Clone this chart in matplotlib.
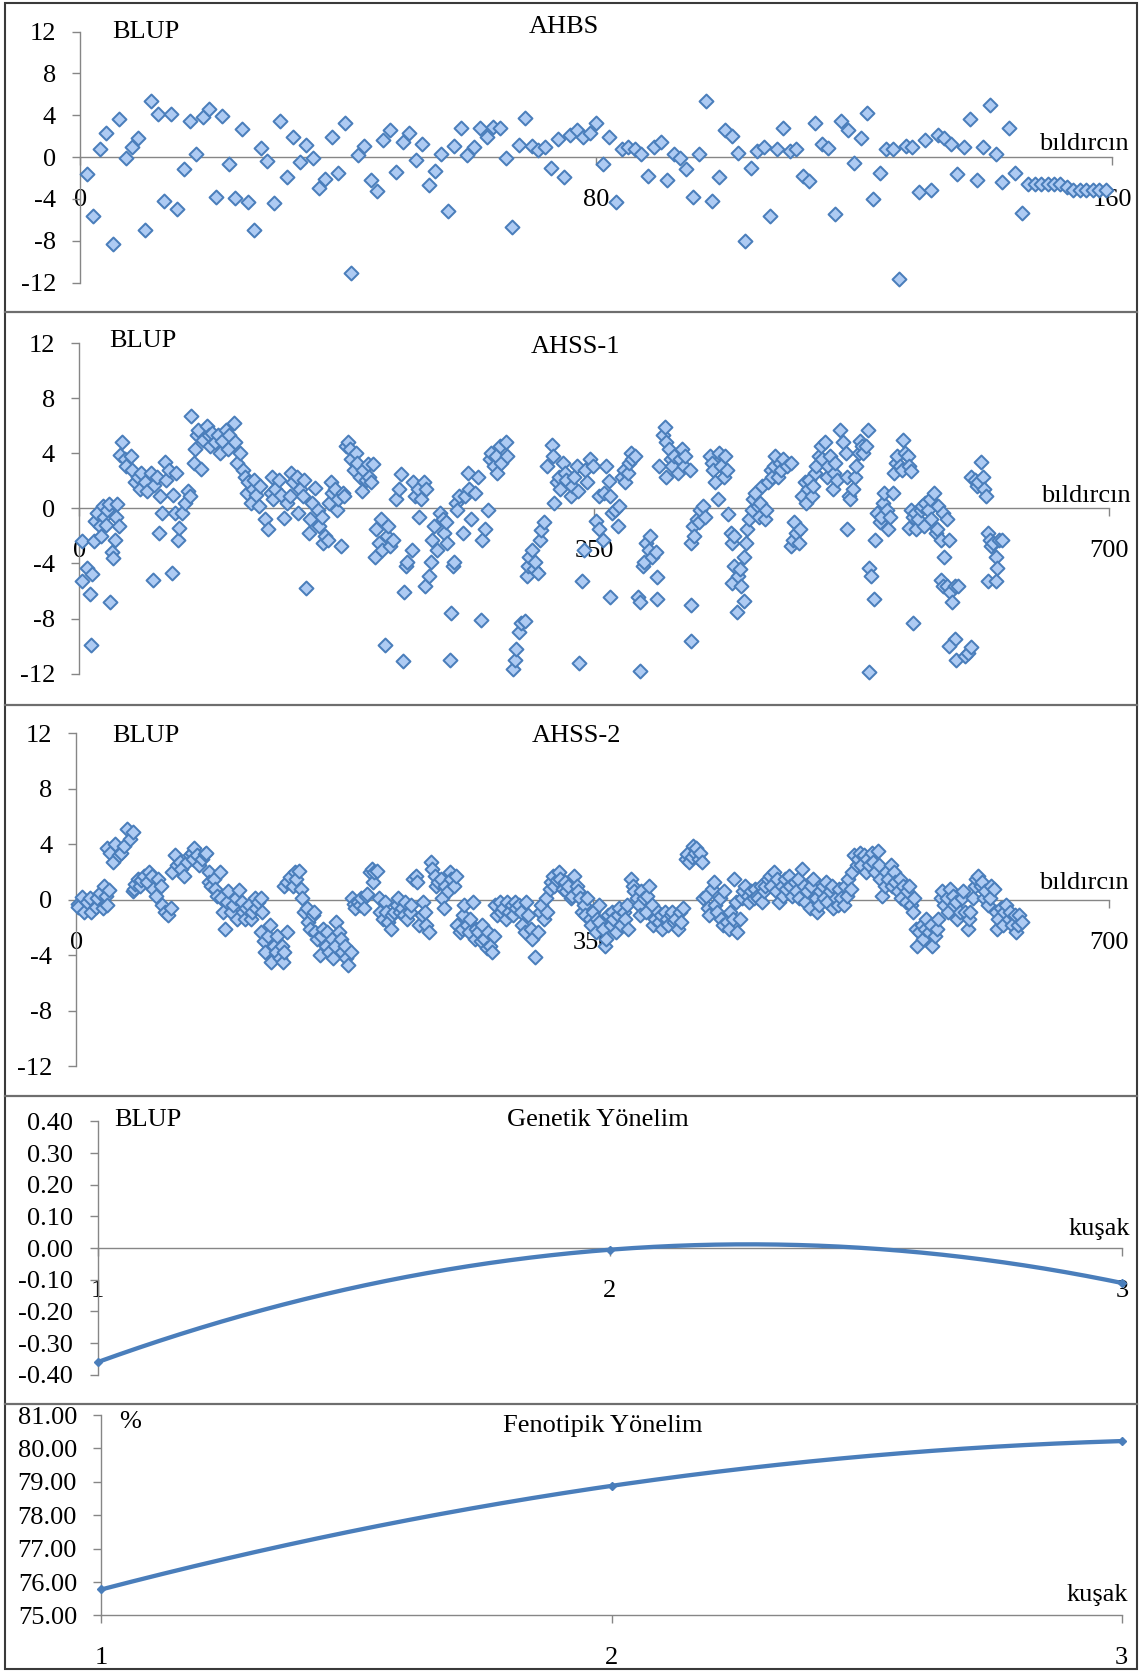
import matplotlib.pyplot as plt
import numpy as np
from matplotlib.lines import Line2D
from matplotlib.patches import Rectangle
from matplotlib.ticker import FuncFormatter

plt.rcParams['font.family'] = ['Liberation Serif', 'DejaVu Serif']
plt.rcParams['axes.unicode_minus'] = False

# AHBS : BLUP degerleri, bildircin sirasina gore (1..159)
ahbs_blup = [
    -1.6, -5.6, 0.8, 2.3, -8.3, 3.6, -0.1, 1.0, 1.8, -7.0,
    5.4, 4.1, -4.2, 4.1, -5.0, -1.1, 3.5, 0.3, 3.8, 4.6,
    -3.8, 3.9, -0.7, -3.9, 2.7, -4.3, -7.0, 0.9, -0.4, -4.4,
    3.5, -1.9, 1.9, -0.5, 1.2, -0.1, -3.0, -2.1, 1.9, -1.5,
    3.3, -11.1, 0.2, 1.1, -2.2, -3.2, 1.6, 2.6, -1.4, 1.4,
    2.3, -0.3, 1.3, -2.7, -1.3, 0.3, -5.2, 1.1, 2.8, 0.2,
    1.0, 2.8, 1.9, 2.9, 2.8, -0.1, -6.7, 1.2, 3.7, 1.1,
    0.7, 1.0, -1.0, 1.7, -1.9, 2.1, 2.6, 1.9, 2.3, 3.3,
    -0.7, 1.9, -4.3, 0.8, 1.0, 0.8, 0.3, -1.8, 1.0, 1.4,
    -2.2, 0.3, -0.1, -1.1, -3.8, 0.3, 5.4, -4.2, -1.9, 2.6,
    2.0, 0.4, -8.0, -1.0, 0.6, 1.0, -5.6, 0.8, 2.8, 0.6,
    0.8, -1.8, -2.3, 3.3, 1.3, 0.9, -5.4, 3.5, 2.6, -0.6,
    1.8, 4.2, -4.0, -1.5, 0.8, 0.8, -11.7, 1.1, 1.0, -3.3,
    1.6, -3.1, 2.1, 1.8, 1.3, -1.6, 1.0, 3.6, -2.2, 1.0,
    5.0, 0.3, -2.4, 2.8, -1.5, -5.3, -2.6, -2.6, -2.6, -2.6,
    -2.6, -2.6, -2.9, -3.1, -3.1, -3.1, -3.1, -3.1, -3.1,
]
ahbs_no = list(range(1, len(ahbs_blup) + 1))

# AHSS-1 : bildircin no / BLUP
ahss1_no = [
    2, 2, 5, 7, 8, 9, 10, 11, 12, 14,
    15, 16, 17, 18, 19, 20, 21, 22, 23, 24,
    25, 26, 27, 28, 29, 31, 32, 35, 36, 38,
    40, 41, 42, 45, 46, 49, 50, 51, 53, 54,
    55, 56, 58, 59, 61, 63, 64, 65, 66, 67,
    68, 70, 72, 74, 75, 76, 78, 79, 80, 81,
    83, 84, 87, 88, 89, 90, 92, 94, 96, 97,
    100, 101, 102, 105, 106, 107, 109, 111, 113, 114,
    115, 117, 118, 119, 120, 122, 123, 126, 128, 130,
    131, 132, 133, 136, 137, 139, 141, 143, 144, 145,
    148, 149, 150, 152, 153, 154, 156, 157, 158, 160,
    162, 163, 165, 166, 167, 169, 170, 171, 172, 174,
    175, 176, 178, 179, 180, 181, 183, 184, 185, 187,
    188, 189, 191, 192, 193, 195, 196, 197, 198, 200,
    201, 202, 204, 205, 206, 208, 209, 210, 211, 213,
    215, 217, 219, 220, 221, 222, 223, 226, 227, 228,
    230, 231, 232, 234, 235, 236, 238, 239, 240, 241,
    243, 245, 247, 248, 249, 250, 252, 253, 254, 255,
    256, 257, 258, 261, 262, 264, 265, 266, 269, 271,
    273, 274, 276, 278, 279, 280, 282, 283, 284, 286,
    287, 290, 291, 295, 296, 297, 299, 300, 303, 304,
    305, 306, 308, 309, 310, 312, 313, 314, 316, 318,
    321, 322, 323, 325, 326, 327, 329, 330, 331, 334,
    335, 336, 338, 339, 340, 342, 343, 344, 345, 347,
    349, 351, 353,
    353, 356, 357, 358, 360, 361, 361, 362, 364, 366,
    367, 369, 370, 371, 373, 374, 375, 376, 378, 380,
    381, 381, 383, 384, 385, 387, 388, 389, 392, 393,
    393, 394, 397, 398, 399, 401, 402, 399, 403, 404,
    407, 408, 410, 411, 412, 415, 416, 416, 416, 417,
    418, 420, 421, 422, 424, 425, 429, 430, 431, 432,
    434, 435, 436, 438, 439, 440, 441, 443, 444, 445,
    444, 445, 447, 448, 449, 450, 452, 452, 453, 454,
    455, 457, 458, 459, 461, 462, 463, 464, 466, 467,
    468, 470, 471, 472, 473, 475, 476, 477, 478, 481,
    484, 484, 485, 486, 487, 489, 490, 491, 493, 494,
    495, 496, 498, 499, 500, 501, 503, 504, 505, 507,
    508, 509, 510, 512, 513, 514, 515, 517, 519, 521,
    522, 522, 523, 524, 526, 527, 528, 530, 531, 532,
    533, 535, 536, 537, 538, 537, 540, 541, 542, 544,
    545, 546, 547, 549, 550, 551, 553, 554, 555, 556,
    558, 559, 560, 561, 563, 564, 565, 567, 564, 565,
    567, 568, 569, 570, 572, 573, 574, 575, 577, 578,
    579, 581, 582, 583, 584, 586, 587, 588, 590, 591,
    586, 587, 590, 592, 593, 595, 595, 596, 591, 597,
    602, 604, 606, 613, 606, 609, 610, 611, 614, 615,
    616, 618, 618, 619, 620, 621, 623, 623, 624, 625,
    627,
]
ahss1_blup = [
    -2.4, -5.3, -4.3, -6.2, -9.9, -4.8, -2.4, -0.9, -0.3, -1.3,
    -2.0, 0.2, -0.6, -1.2, -0.1, 0.3, -6.8, -3.2, -3.6, -2.3,
    -0.6, 0.3, -1.3, 3.9, 4.8, 3.6, 3.1, 3.8, 2.8, 1.9,
    2.3, 1.4, 2.6, 1.9, 1.3, 2.6, -5.2, 1.7, 2.3, -1.8,
    0.9, -0.3, 3.4, 2.1, 2.8, -4.7, 1.0, -0.3, 2.6, -2.3,
    -1.4, -0.3, 0.4, 1.3, 0.9, 6.7, 3.3, 4.3, 5.3, 5.7,
    2.9, 5.0, 6.0, 5.3, 4.5, 5.5, 4.8, 5.3, 4.0, 4.9,
    5.7, 4.3, 5.3, 6.2, 4.8, 3.3, 4.0, 2.8, 2.3, 1.1,
    1.9, 0.4, 1.4, 2.1, 1.0, 0.2, 1.6, -0.8, -1.5, 1.1,
    2.3, 0.7, 1.4, 2.1, 1.0, -0.7, 0.4, 0.9, 2.6, 1.9,
    2.3, -0.3, 1.4, 0.9, 2.1, -5.8, -1.8, -0.8, 0.4, 1.5,
    -0.1, -1.3, -0.6, -2.5, -2.0, -2.3, 0.4, 1.9, 1.1, 1.4,
    -0.1, 0.7, -2.7, 1.1, 0.9, 4.5, 4.8, 4.3, 3.6, 2.8,
    4.0, 3.3, 2.3, 1.3, 2.8, 2.1, 3.2, 2.3, 1.9, 3.2,
    -3.5, -1.5, -2.5, -0.8, -3.0, -9.9, -2.0, -1.3, -2.7, -2.3,
    0.7, 1.4, 2.5, -11.1, -6.1, -4.2, -3.9, -3.0, 1.9, 0.9,
    1.4, -0.6, 0.7, 1.9, -5.6, 1.4, -4.9, -3.9, -2.3, -1.3,
    -3.0, -0.3, -0.8, -1.8, -1.0, -2.5, -11.0, -7.6, -4.2, -3.9,
    0.4, -0.1, 0.9, -1.8, 0.9, 2.6, 1.4, -0.8, 1.1, 2.3,
    -8.1, -2.3, -1.5, -0.1, 3.6, 4.0, 3.1, 3.8, 2.6, 4.5,
    3.3, 4.8, 3.8, -11.7, -11.0, -10.2, -9.0, -8.3, -8.2, -4.9,
    -4.2, -3.5, -3.0, -4.4, -3.9, -4.7, -2.3, -1.6, -1.0, 3.1,
    4.6, 3.8, 0.4, 1.9, 2.3, 1.4, 3.3, 2.6, 2.1, 0.9,
    1.6, 2.3, 3.1, 1.3, -11.2, -5.3, -3.0, 2.8, 1.9, 3.6,
    3.1, -0.9, 0.9,
    -1.5, -2.3, 1.1, 3.1, 2.0, 0.9, -6.4, -0.3, -0.1, -1.3,
    0.2, 2.3, 2.8, 1.9, 2.6, 3.3, 4.0, 3.6, 3.8, -6.4,
    -6.8, -11.8, -4.2, -3.9, -2.5, -3.0, -2.0, -3.5, -3.2, -5.0,
    -6.6, 3.1, 5.3, 5.9, 4.8, 4.3, 3.6, 2.3, 3.1, 3.8,
    2.6, 3.6, 4.3, 3.1, 3.8, 2.8, -2.5, -7.0, -9.6, -1.3,
    -2.0, -0.8, -1.0, -0.1, 0.2, -0.6, 3.8, 3.3, 2.8, 1.9,
    0.7, 4.0, 3.1, 2.3, 3.8, 2.8, -0.4, -1.8, -2.5, -4.2,
    -5.4, -2.0, -7.5, -4.9, -4.4, -5.6, -6.7, -3.5, -2.5, -1.5,
    -0.8, -0.1, 0.7, 1.1, 0.2, -0.6, 0.4, 1.6, -0.8, -0.1,
    1.9, 2.8, 2.3, 3.1, 3.8, 2.3, 3.3, 2.8, 3.6, 3.1,
    3.3, -2.7, -2.3, -1.0, -1.8, -2.5, -1.5, 0.9, 1.9, 0.4,
    1.4, 2.1, 0.9, 1.6, 2.6, 3.1, 3.8, 4.5, 3.6, 4.8,
    2.3, 3.1, 3.8, 1.4, 2.6, 3.3, 2.1, 5.7, 4.8, 4.0,
    -1.5, 2.3, 0.9, 0.7, 1.4, 2.3, 3.1, 4.0, 4.9, 4.5,
    4.0, 4.5, 5.7, -4.3, -4.9, -11.9, -6.6, -2.3, -0.3, -1.0,
    -0.6, 0.4, 1.1, -0.1, -1.5, -0.6, 1.1, 2.6, 3.3, 3.8,
    3.1, 2.8, 5.0, 4.0, 3.8, 3.1, 2.7, -8.3, -1.4, -0.1,
    -0.6, -0.3, -1.5, -0.8, -0.1, 0.2, -1.3, 0.4, -0.1, 0.7,
    -0.8, 1.1, -1.8, -1.5, 0.2, -2.3, -0.3, -3.5, -0.8, -2.3,
    -5.2, -5.6, -5.6, -6.1, -6.8, -5.6, -9.5, -11.0, -10.0, -5.6,
    -10.7, -10.5, -10.1, 3.4, 2.3, 2.1, 1.6, 1.9, 2.3, 1.4,
    0.9, -1.8, -5.3, -2.3, -2.7, -2.5, -3.5, -5.3, -4.3, -2.3,
    -2.3,
]

# AHSS-2 : bildircin no / BLUP
ahss2_no = [
    1, 1, 4, 5, 7, 9, 10, 13, 14, 16,
    18, 19, 20, 22, 21, 21, 23, 25, 26, 29,
    30, 32, 34, 36, 38, 38, 39, 40, 42, 43,
    44, 46, 48, 49, 51, 52, 54, 55, 57, 58,
    60, 62, 64, 65, 67, 68, 70, 71, 73, 75,
    77, 78, 79, 80, 82, 83, 85, 87, 88, 90,
    90, 91, 93, 94, 95, 97, 98, 99, 101, 102,
    103, 105, 106, 108, 109, 110, 112, 113, 114, 115,
    117, 118, 119, 121, 122, 123, 125, 126, 125, 127,
    128, 130, 131, 132, 134, 135, 136, 138, 139, 140,
    141, 143, 141, 143, 145, 147, 148, 149, 151, 152,
    153, 154, 156, 157, 158, 160, 161, 162, 163, 165,
    166, 167, 169, 170, 171, 173, 174, 175, 176, 178,
    179, 180, 182, 183, 184, 186, 187, 188, 189, 191,
    192, 193, 195, 196, 197, 199, 200, 201, 202, 204,
    205, 206, 208, 209, 210, 211, 213, 214, 215, 217,
    218, 219, 221, 222, 223, 224, 226, 227, 228, 230,
    231, 232, 234, 235, 236, 237, 239, 240, 241, 243,
    244, 245, 247, 248, 249, 250, 252, 253, 254, 256,
    257, 258, 260, 261, 262, 263, 265, 266, 267, 269,
    270, 271, 272, 274, 275, 276, 278, 279, 280, 282,
    283, 284, 285, 287, 288, 289, 291, 292, 293, 295,
    296, 297, 298, 300, 301, 302, 304, 305, 306, 308,
    309, 311, 313, 314, 315, 317, 318, 319, 321, 322,
    323, 324, 326, 327, 328, 330, 331, 332, 333, 335,
    336, 337, 339, 340, 341, 343, 344, 345, 346, 348,
    349, 350, 352, 353, 354,
    354, 357, 358, 359, 360, 362, 363, 364, 366, 367,
    368, 369, 371, 372, 373, 374, 376, 377, 378, 380,
    381, 382, 383, 385, 386, 387, 388, 390, 391, 392,
    394, 395, 396, 397, 399, 400, 401, 403, 404, 405,
    406, 408, 409, 410, 411, 413, 414, 415, 417, 418,
    419, 420, 422, 423, 424, 425, 427, 428, 429, 431,
    432, 433, 434, 436, 437, 438, 439, 441, 442, 443,
    445, 446, 447, 448, 450, 451, 452, 453, 455, 456,
    457, 459, 460, 461, 462, 464, 465, 466, 467, 469,
    470, 471, 473, 474, 475, 476, 478, 479, 480, 481,
    483, 484, 485, 487, 488, 489, 490, 492, 493, 494,
    495, 497, 498, 499, 501, 502, 503, 504, 506, 507,
    508, 509, 511, 512, 513, 515, 516, 517, 518, 520,
    521, 522, 523, 525, 526, 527, 529, 530, 531, 532,
    534, 535, 536, 537, 539, 540, 541, 543, 544, 545,
    546, 548, 549, 550, 552, 553, 554, 555, 557, 558,
    559, 560, 562, 563, 564, 566, 567, 568, 569, 570,
    571, 573, 574, 575, 576, 578, 579, 580, 582, 583,
    584, 586, 587, 588, 590, 591, 592, 594, 595, 596,
    597, 599, 600, 601, 602, 604, 605, 606, 608, 609,
    610, 611, 613, 614, 615, 616, 618, 619, 620, 622,
    623, 624, 625, 627, 628, 629, 630, 632, 633, 634,
    636, 637, 638, 639, 641,
]
ahss2_blup = [
    -0.3, -0.5, 0.2, -0.9, -0.2, 0.1, -0.9, -0.5, 0.1, 0.5,
    -0.6, 1.0, 0.3, 0.7, -0.4, 3.7, 3.4, 2.7, 4.0, 3.2,
    3.4, 3.9, 5.1, 4.4, 4.9, 0.6, 0.8, 1.1, 1.5, 1.0,
    1.4, 1.7, 1.3, 2.0, 1.7, 0.8, 0.3, 1.5, 1.0, -0.4,
    -0.9, -1.1, -0.6, 2.0, 3.2, 2.5, 2.7, 2.2, 1.7, 2.7,
    3.2, 3.4, 2.9, 3.7, 3.2, 2.5, 2.9, 3.3, 3.4, 2.0,
    1.3, 1.0, 1.5, 0.8, 0.3, 2.0, 0.1, -0.9, -2.1, -0.2,
    0.6, -0.9, -0.4, 0.1, -1.4, 0.7, -0.2, -0.9, -1.4, -0.6,
    -0.4, -1.4, -0.9, 0.1, -0.6, -0.2, 0.1, -0.9, -2.3, -3.0,
    -3.8, -2.6, -1.8, -4.5, -3.3, -3.8, -2.6, -4.2, -3.3, -4.5,
    -3.8, -2.3, 1.0, 1.3, 1.6, 1.0, 2.0, 1.5, 2.1, 0.8,
    0.1, -0.9, -0.6, -1.6, -2.1, -1.1, -0.9, -2.3, -2.8, -4.0,
    -2.6, -2.1, -3.3, -2.3, -3.8, -2.8, -4.2, -3.3, -1.6, -2.3,
    -2.8, -3.8, -3.3, -4.2, -4.7, -3.8, 0.1, -0.3, -0.6, -0.2,
    -0.4, 0.1, -0.6, 0.3, 0.4, 2.0, 2.2, 1.3, 2.0, 2.1,
    0.1, -0.9, -1.4, -0.2, -0.9, -1.6, -2.1, -1.1, -0.9, -0.4,
    0.1, -0.9, -0.6, -1.1, -0.2, -1.4, -0.9, -0.4, 1.5, 1.7,
    1.3, -1.8, -1.1, -0.2, -0.9, -1.8, -2.3, 2.7, 2.2, 1.7,
    1.0, 1.3, 1.5, 0.1, -0.6, 1.0, 0.6, 2.0, 1.5, 1.0,
    1.7, -1.8, -2.3, -2.1, -1.1, -0.4, -1.8, -2.3, -1.4, -0.2,
    -2.8, -2.1, -2.3, -3.0, -1.8, -2.8, -3.5, -2.3, -3.3, -3.8,
    -2.6, -0.4, -1.1, -0.2, -0.9, -0.6, -1.4, -0.2, -0.9, -0.4,
    -1.1, -0.2, -0.6, -0.4, -0.9, -1.8, -2.3, -0.2, -1.1, -2.1,
    -2.8, -4.1, -2.3, -0.9, -0.4, -1.4, 0.1, -0.9, 0.8, 1.3,
    1.7, 1.0, 1.4, 2.0, 1.5, 0.8, 1.3, 0.6, 1.0, 0.1,
    0.3, 1.7, 1.0, 0.6, 0.1, -0.9, -0.4, -1.1, 0.1, -1.4,
    -1.8, -0.9, -2.3, -1.4, -0.4,
    -1.6, -2.1, -3.3, -2.8, -1.1, -1.8, -0.9, -1.4, -2.3, -1.1,
    -0.6, -1.8, -0.9, -1.4, -0.4, -2.1, 1.5, 1.0, 0.6, 0.1,
    -0.4, -1.1, 0.6, 0.1, -0.9, 0.3, 1.0, -0.4, -1.8, -1.4,
    -0.9, -1.6, -1.1, -2.1, -0.9, -1.4, -1.8, -1.1, -0.9, -1.6,
    -1.4, -2.1, -0.9, -1.6, -0.6, 2.9, 3.3, 2.7, 3.1, 3.9,
    3.4, 3.7, 2.9, 3.4, 2.7, 0.1, 0.3, -0.6, -1.1, 0.8,
    1.3, -0.4, -0.9, 0.1, -1.4, -1.8, 0.6, -1.6, -2.1, -0.9,
    -1.4, 1.5, -0.2, -2.3, -1.4, 0.1, 0.6, 1.0, 0.3, -0.2,
    0.6, 0.1, 0.8, 0.3, 0.1, 1.0, -0.2, 0.6, 1.0, 1.5,
    1.7, 1.0, 2.0, 0.6, 1.5, -0.2, 1.0, 0.3, 1.5, 0.8,
    1.7, 1.0, 0.3, 1.3, 0.6, 1.5, 0.1, 2.2, 1.0, -0.2,
    0.6, -0.6, 1.0, 1.5, 0.1, -0.9, -0.4, 0.6, 1.0, 0.1,
    1.3, -0.2, 0.6, 1.0, -0.6, 0.1, -0.4, 0.8, 0.1, -0.4,
    1.0, 0.3, 1.5, 0.8, 2.0, 3.2, 2.5, 2.9, 3.4, 2.5,
    3.2, 2.0, 2.9, 2.5, 3.4, 2.7, 2.0, 3.5, 2.5, 1.5,
    0.3, 1.0, 2.0, 1.5, 2.5, 1.0, 2.0, 1.3, 0.6, 1.5,
    0.1, 1.0, -0.2, 0.6, 1.0, -0.4, -0.9, 0.1, -2.1, -3.3,
    -2.3, -1.8, -2.8, -2.1, -1.4, -2.3, -1.8, -3.3, -2.6, -2.1,
    -1.4, 0.1, 0.6, -0.4, 0.1, -0.9, 0.8, 0.3, -0.4, -0.2,
    -1.4, -0.9, 0.1, 0.6, -0.9, -2.1, -1.4, -0.9, 0.1, 1.0,
    1.5, 1.7, 1.0, 1.3, 0.1, 0.6, -0.4, 0.1, 1.0, 0.8,
    -0.9, -2.1, -1.4, -0.6, -1.8, -0.9, -0.4, -1.4, -0.9, -1.8,
    -1.1, -2.3, -1.8, -1.1, -1.6,
]

# Genetik / fenotipik yonelim
kusak = [1, 2, 3]
genetik_blup = [-0.36, -0.005, -0.11]
fenotipik_yuzde = [75.78, 78.88, 80.22]

FACE = '#aecbf3'
EDGE = '#4a7ebb'
AXIS = '#868686'
FS = 19

fig = plt.figure(figsize=(11.39, 16.72), dpi=100)


# koordinatlar kucultulmus referans goruntusune gore (1068 x 1568)
def fx(x):
    return x / 1068


def fy(y):
    return 1 - y / 1568


def fmt2(v, pos):
    # -0.00 yerine 0.00
    return '%.2f' % (0.0 if abs(v) < 1e-9 else v)


def add_axes(x0, x1, y_top, y_bot):
    ax = fig.add_axes([fx(x0), fy(y_bot), fx(x1) - fx(x0), fy(y_top) - fy(y_bot)])
    ax.patch.set_visible(False)
    for s in ['top', 'right']:
        ax.spines[s].set_visible(False)
    for s in ['left', 'bottom']:
        ax.spines[s].set_color(AXIS)
        ax.spines[s].set_linewidth(1.0)
    ax.tick_params(axis='both', colors=AXIS, labelcolor='black', labelsize=FS,
                   length=5.5, width=1.0, direction='out')
    ax.tick_params(axis='y', pad=12)
    ax.tick_params(axis='x', pad=17.5)
    return ax


def scatter_panel(x0, x1, y_top, y_bot, xs, ys, xmax, xticks):
    ax = add_axes(x0, x1, y_top, y_bot)
    ax.scatter(xs, ys, marker='D', s=50, facecolor=FACE, edgecolor=EDGE,
               linewidths=1.45, zorder=3, clip_on=False)
    ax.set_xlim(0, xmax)
    ax.set_ylim(-12, 12)
    ax.set_yticks(np.arange(-12, 13, 4))
    ax.set_xticks(xticks)
    ax.spines['bottom'].set_position(('data', 0))
    return ax


scatter_panel(75.4, 1042.7, 29.7, 265, ahbs_no, ahbs_blup, 160, [0, 80, 160])
scatter_panel(74.3, 1040, 321.9, 631.7, ahss1_no, ahss1_blup, 700, [0, 350, 700])
scatter_panel(71.7, 1040, 687.5, 1000, ahss2_no, ahss2_blup, 700, [0, 350, 700])

# yumusatilmis cizgi (Excel "smooth line" gibi)
xx = np.linspace(1, 3, 200)

ax4 = add_axes(91.5, 1052, 1051.7, 1289.3)
c = np.polyfit(kusak, genetik_blup, 2)
ax4.plot(xx, np.polyval(c, xx), color=EDGE, lw=3.1, solid_capstyle='round', zorder=3)
ax4.plot(kusak, genetik_blup, 'D', color=EDGE, ms=4, zorder=4, clip_on=False)
ax4.set_xlim(1, 3)
ax4.set_ylim(-0.4, 0.4)
ax4.set_yticks(np.arange(-0.4, 0.41, 0.1))
ax4.yaxis.set_major_formatter(FuncFormatter(fmt2))
ax4.set_xticks(kusak)
ax4.spines['bottom'].set_position(('data', 0))

ax5 = add_axes(95.1, 1051.8, 1327, 1515)
c = np.polyfit(kusak, fenotipik_yuzde, 2)
ax5.plot(xx, np.polyval(c, xx), color=EDGE, lw=3.1, solid_capstyle='round', zorder=3)
ax5.plot(kusak, fenotipik_yuzde, 'D', color=EDGE, ms=4, zorder=4, clip_on=False)
ax5.set_xlim(1, 3)
ax5.set_ylim(75, 81)
ax5.set_yticks(np.arange(75, 81.1, 1))
ax5.yaxis.set_major_formatter(FuncFormatter(fmt2))
ax5.set_xticks(kusak)

# yazilar
labels = [
    (105, 30, 'BLUP', 'left'), (529, 25, 'AHBS', 'center'), (1058, 135, 'bıldırcın', 'right'),
    (102, 320, 'BLUP', 'left'), (540, 325, 'AHSS-1', 'center'), (1060, 465, 'bıldırcın', 'right'),
    (105, 690, 'BLUP', 'left'), (541, 690, 'AHSS-2', 'center'), (1058, 828, 'bıldırcın', 'right'),
    (107, 1050, 'BLUP', 'left'), (561, 1050, 'Genetik Yönelim', 'center'), (1060, 1153, 'kuşak', 'right'),
    (112, 1334, '%', 'left'), (565, 1337, 'Fenotipik Yönelim', 'center'), (1058, 1496, 'kuşak', 'right'),
]
for x, y, s, ha in labels:
    fig.text(fx(x), fy(y), s, ha=ha, va='center', fontsize=FS)

# panel cerceveleri
fig.add_artist(Rectangle((0.004, 0.0015), 0.994, 0.9965, transform=fig.transFigure,
                         fill=False, edgecolor='#3a3a3a', linewidth=1.5))
for y in [293, 661, 1028, 1317]:
    fig.add_artist(Line2D([0.004, 0.998], [fy(y), fy(y)], transform=fig.transFigure,
                          color='#6e6e6e', linewidth=1.6))

fig.savefig('out.png', dpi=100)
